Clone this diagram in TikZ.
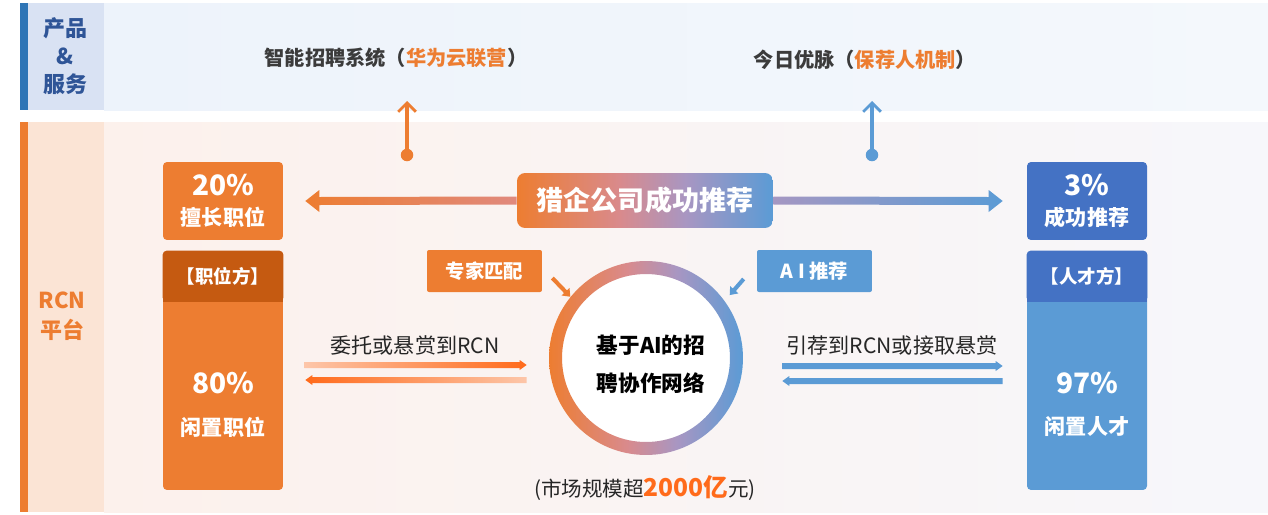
\documentclass[tikz,border=0pt]{standalone}
\usepackage{fontspec}
\setmainfont{Noto Sans CJK SC}
\usetikzlibrary{positioning,arrows.meta,calc}

\definecolor{cOr}{HTML}{ED7D31}
\definecolor{cOrDk}{HTML}{C55A11}
\definecolor{cOrHot}{HTML}{FF6A1A}
\definecolor{cOrLt}{HTML}{FDC6A9}
\definecolor{cBl}{HTML}{5B9BD5}
\definecolor{cBlDk}{HTML}{4472C4}
\definecolor{cBar}{HTML}{2E75B6}
\definecolor{cNavy}{HTML}{2F5597}
\definecolor{cTopCol}{HTML}{D9E2F3}
\definecolor{cTopBg}{HTML}{EDF3FB}
\definecolor{cTopBg2}{HTML}{F4F8FC}
\definecolor{cBotCol}{HTML}{FBE4D5}
\definecolor{cBotBg}{HTML}{FCF1EC}
\definecolor{cBotBg2}{HTML}{F7F7FB}
\definecolor{cPink}{HTML}{D98A8C}
\definecolor{cMauve}{HTML}{A896C2}
\definecolor{cArrL}{HTML}{E0897E}
\definecolor{cArrR}{HTML}{A597C2}
\definecolor{cInk}{HTML}{262626}
\definecolor{cHead}{HTML}{3B3B3B}

\pgfdeclarehorizontalshading{orbl}{100bp}{color(0bp)=(cOr); color(25bp)=(cOr); color(45bp)=(cPink); color(58bp)=(cMauve); color(75bp)=(cBl); color(100bp)=(cBl)}

% thick arrow as a shaded outline: tail, tip, left colour, right colour, half width, head length, head half width
\newcommand\fatarr[7]{%
  \shade[left color=#3, right color=#4]
    ($(#1)+(0,#5)$) -- ($(#2)+(#6,#5)$) -- ($(#2)+(#6,#7)$) -- (#2)
    -- ($(#2)+(#6,-#7)$) -- ($(#2)+(#6,-#5)$) -- ($(#1)+(0,-#5)$) -- cycle;}

\begin{document}
\begin{tikzpicture}[x=0.02cm, y=-0.02cm,
  stat/.style={rounded corners=0.08cm, minimum width=2.4cm, minimum height=1.56cm, align=center, text=white, font=\bfseries\fontsize{12}{17}\selectfont},
  side/.style={rounded corners=0.08cm, minimum width=2.4cm, minimum height=4.78cm},
  sidehd/.style={text=white, font=\bfseries\fontsize{10.5}{12}\selectfont},
  pct/.style={text=white, font=\bfseries\fontsize{16}{18}\selectfont},
  idle/.style={text=white, font=\bfseries\fontsize{12}{14}\selectfont},
  tag/.style={rounded corners=0.04cm, minimum width=2.3cm, minimum height=0.84cm, text=white, font=\bfseries\fontsize{11}{13}\selectfont},
  hunt/.style={shade, shading=orbl, rounded corners=0.16cm, minimum width=5.12cm, minimum height=1.1cm, text=white, font=\bfseries\fontsize{15.4}{18}\selectfont},
  rowlbl/.style={align=center, font=\bfseries\fontsize{12.5}{16}\selectfont},
  toplbl/.style={text=cHead, font=\bfseries\fontsize{11.5}{14}\selectfont},
  flowlbl/.style={text=cInk, font=\fontsize{12}{14}\selectfont},
  uparr/.style={line width=2pt, -{Straight Barb[length=5pt, width=10pt, line width=1.6pt]}},
  tagarr/.style={line width=2.3pt, -{Triangle[length=4pt, width=6pt]}}]
  \useasboundingbox (0,0) rectangle (1268,514);

  % bands
  \fill[cBar] (20,3) rectangle (28,110);
  \fill[cTopCol] (28,3) rectangle (104,110);
  \shade[left color=cTopBg, right color=cTopBg2] (104,3) rectangle (1268,110);
  \fill[cOr] (20,122) rectangle (28,512);
  \fill[cBotCol] (28,122) rectangle (104,512);
  \shade[left color=cBotBg, right color=cBotBg2] (104,122) rectangle (1268,512);
  \node[rowlbl, text=cNavy] (prodlbl) at (65,56) {产品\\\&\\服务};
  \node[rowlbl, text=cOr, font=\bfseries\fontsize{12.5}{17}\selectfont] (rcnlbl) at (62,316) {RCN\\平台};

  % products
  \node[toplbl] (topsys) at (396,58) {智能招聘系统（{\color{cOr}华为云联营}）};
  \node[toplbl] (topyou) at (865,60) {今日优脉（{\color{cOr}保荐人机制}）};
  \coordinate (dotL) at (407,155);
  \coordinate (tipL) at (407,101);
  \coordinate (dotR) at (872,155);
  \coordinate (tipR) at (872,101);
  \fill[cOr] (dotL) circle (0.125cm);
  \draw[uparr, cOr] (dotL) -- (tipL);
  \fill[cBl] (dotR) circle (0.125cm);
  \draw[uparr, cBl] (dotR) -- (tipR);

  % job side
  \node[stat, fill=cOr] (pos20) at (223,201) {{\fontsize{16}{17}\selectfont 20\%}\\擅长职位};
  \node[side, fill=cOr] (jobbody) at (223,370.5) {};
  \fill[cOrDk, rounded corners=0.08cm] (jobbody.north west) rectangle ($(jobbody.north east)+(0,51)$);
  \fill[cOrDk] ($(jobbody.north west)+(0,26)$) rectangle ($(jobbody.north east)+(0,51)$);
  \node[sidehd] (jobhd) at ($(jobbody.north)+(0,25.5)$) {【职位方】};
  \node[pct] (jobpct) at (223,383) {80\%};
  \node[idle] (jobidle) at (223,427) {闲置职位};

  % talent side
  \node[stat, fill=cBlDk] (pos3) at (1087,201) {{\fontsize{16}{17}\selectfont 3\%}\\成功推荐};
  \node[side, fill=cBl] (talbody) at (1087,370.5) {};
  \fill[cBlDk, rounded corners=0.08cm] (talbody.north west) rectangle ($(talbody.north east)+(0,51)$);
  \fill[cBlDk] ($(talbody.north west)+(0,26)$) rectangle ($(talbody.north east)+(0,51)$);
  \node[sidehd] (talhd) at ($(talbody.north)+(0,25.5)$) {【人才方】};
  \node[pct] (talpct) at (1087,383) {97\%};
  \node[idle] (talidle) at (1087,427) {闲置人才};

  % centre
  \node[hunt] (huntbox) at (645,200.5) {猎企公司成功推荐};
  \coordinate (hl) at ($(pos20.east)+(22,0)$);
  \coordinate (hr) at ($(pos3.west)+(-24,0)$);
  \fatarr{huntbox.west}{hl}{cOr}{cArrL}{4}{14}{11}
  \fatarr{huntbox.east}{hr}{cArrR}{cBl}{4}{-14}{11}

  \node[circle, fill=white, minimum size=3.88cm] (net) at (646,358) {};
  \shade[shading=orbl, even odd rule] (net.center) circle [radius=1.94cm] (net.center) circle [radius=1.68cm];
  \node[align=center, text=black, font=\bfseries\fontsize{12.3}{21.6}\selectfont] (nettxt) at (651,364) {基于AI的招\\聘协作网络};
  \node[text=cInk, font=\fontsize{11.7}{14}\selectfont] (market) at (645,488) {(市场规模超{\bfseries\fontsize{14}{16}\selectfont\color{cOrHot}2000亿}元)};

  \node[tag, fill=cOr] (match) at (484.5,271) {专家匹配};
  \node[tag, fill=cBl] (aitag) at (814.5,271) {A I 推荐};
  \draw[tagarr, cOr] ($(match.east)+(10,7)$) -- (net.141);
  \draw[tagarr, cBl] ($(aitag.west)+(-13,8)$) -- ($(net.38)+(7,-3)$);

  % flows
  \node[flowlbl] (entrust) at (415,345) {委托或悬赏到RCN};
  \coordinate (wA) at ($(jobbody.east)+(21,-5.5)$);
  \coordinate (wB) at ($(net.west)+(-22,7)$);
  \coordinate (wC) at ($(jobbody.east)+(22,9.5)$);
  \coordinate (wD) at ($(net.west)+(-22,22)$);
  \fatarr{wA}{wB}{cOrLt}{cOrHot}{3}{-7}{5}
  \fatarr{wD}{wC}{cOrHot}{cOrLt}{3}{7}{5}

  \node[flowlbl] (refer) at (892,345) {引荐到RCN或接取悬赏};
  \coordinate (tA) at ($(net.east)+(39,8)$);
  \coordinate (tB) at ($(talbody.west)+(-24,-4.5)$);
  \coordinate (tC) at ($(talbody.west)+(-24,10.5)$);
  \coordinate (tD) at ($(net.east)+(39,23)$);
  \fatarr{tA}{tB}{cBl}{cBl}{3}{-7}{5}
  \fatarr{tC}{tD}{cBl}{cBl}{3}{7}{5}
\end{tikzpicture}
\end{document}
